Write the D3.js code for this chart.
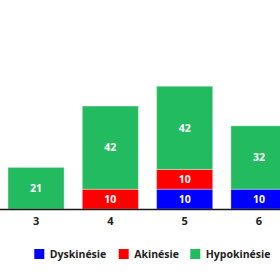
<!DOCTYPE html>
<html>
<head>
<meta charset="utf-8">
<script src="https://cdn.jsdelivr.net/npm/d3@7"></script>
<style>
  html, body { margin: 0; padding: 0; background: #fff; }
  svg { display: block; font-family: "Open Sans", "Lato", sans-serif; }
</style>
</head>
<body>
<svg id="chart" width="280" height="280"></svg>
<script>
// Data
const categories = ["3", "4", "5", "6"];
const dyskinesie = [0, 0, 10, 10];
const akinesie = [0, 10, 10, 0];
const hypokinesie = [21, 42, 42, 32];
const seriesNames = ["Dyskinésie", "Akinésie", "Hypokinésie"];
const seriesColors = ["#0000ff", "#ff0000", "#22bb5f"];

const rows = categories.map((c, i) => ({
  cat: c,
  "Dyskinésie": dyskinesie[i],
  "Akinésie": akinesie[i],
  "Hypokinésie": hypokinesie[i]
}));

const svg = d3.select("#chart");
const baseY = 209;

const x = d3.scaleBand()
  .domain(categories)
  .range([-1.1, 296.1])
  .paddingInner(0.245)
  .paddingOuter(0.1225);

const y = d3.scaleLinear()
  .domain([0, 100])
  .range([baseY, baseY - 198]);

const color = d3.scaleOrdinal().domain(seriesNames).range(seriesColors);

const stack = d3.stack().keys(seriesNames);
const stacked = stack(rows);

const groups = svg.append("g").selectAll("g")
  .data(stacked)
  .join("g")
  .attr("fill", d => color(d.key));

groups.selectAll("rect")
  .data(d => d.filter(s => s[1] - s[0] > 0))
  .join("rect")
  .attr("x", d => x(d.data.cat))
  .attr("width", x.bandwidth())
  .attr("y", d => y(d[1]))
  .attr("height", d => y(d[0]) - y(d[1]))
  .attr("stroke", "rgba(255,255,255,0.35)")
  .attr("stroke-width", 1);

// value labels
const labels = svg.append("g");
stacked.forEach(layer => {
  layer.forEach(s => {
    const v = s[1] - s[0];
    if (v <= 0) return;
    labels.append("text")
      .attr("x", x(s.data.cat) + x.bandwidth() / 2)
      .attr("y", (y(s[0]) + y(s[1])) / 2)
      .attr("dy", "0.36em")
      .attr("text-anchor", "middle")
      .attr("fill", "#fff")
      .attr("font-size", 10.5)
      .attr("font-weight", 700)
      .text(v);
  });
});

// x axis
const xAxis = d3.axisBottom(x).tickSize(0).tickPadding(8);
const ax = svg.append("g")
  .attr("transform", `translate(0,${baseY})`)
  .call(xAxis);
ax.select(".domain").remove();
ax.append("line")
  .attr("x1", 0).attr("x2", 280)
  .attr("y1", 0.5).attr("y2", 0.5)
  .attr("stroke", "#1a1a1a")
  .attr("stroke-width", 1.5);
ax.selectAll("text")
  .attr("font-size", 11)
  .attr("font-weight", 700)
  .attr("fill", "#222")
  .attr("font-family", "'Open Sans', sans-serif");

// legend
const legendX = [34.3, 118.7, 190.3];
const legend = svg.append("g");
seriesNames.forEach((name, i) => {
  const g = legend.append("g").attr("transform", `translate(${legendX[i]},249)`);
  g.append("rect").attr("width", 10).attr("height", 10).attr("fill", color(name));
  g.append("text")
    .attr("x", 15.5)
    .attr("y", 5)
    .attr("dy", "0.36em")
    .attr("font-size", 10.5)
    .attr("font-weight", 700)
    .attr("fill", "#222")
    .text(name);
});
</script>
</body>
</html>
